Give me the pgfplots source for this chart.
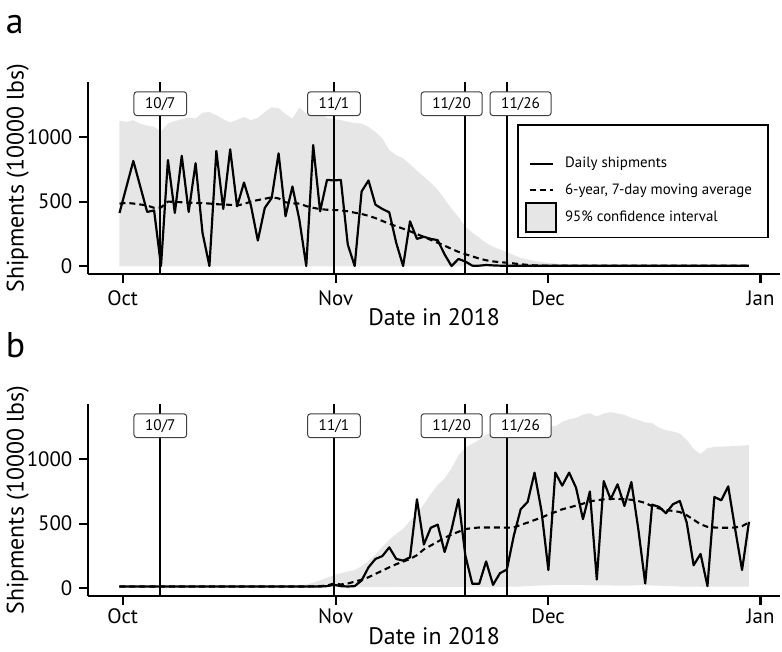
\documentclass[border=0pt]{standalone}
\usepackage{pgfplots}
\pgfplotsset{compat=1.18}
\usepackage{pgfplotstable}
\usepgfplotslibrary{fillbetween}
\usepackage{fontspec}
\setmainfont{PT Sans}
\definecolor{cig}{RGB}{230,230,230}

\pgfplotstableread{
day daily ma lo hi
0 412 484 -3 1127
1 614 490 -3 1119
2 816 485 -3 1132
3 618 478 -3 1105
4 420 470 -3 1090
5 432 452 -3 1080
6 0 455 -3 1045
7 823 500 -3 1106
8 412 498 -3 1125
9 856 495 -3 1140
10 420 492 -3 1153
11 798 490 -3 1145
12 258 488 -3 1190
13 0 485 -3 1195
14 893 480 -3 1170
15 443 478 -3 1140
16 906 475 -3 1115
17 463 470 -3 1135
18 648 482 -3 1157
19 470 500 -3 1132
20 198 512 -3 1150
21 451 522 -3 1196
22 528 534 -3 1232
23 875 525 -3 1225
24 386 495 -3 1180
25 617 486 -3 1145
26 360 485 -3 1230
27 0 465 -3 1185
28 939 452 -3 1170
29 424 442 -3 1196
30 669 437 -3 1150
31 664 435 -3 1140
32 669 432 -3 1132
33 167 425 -3 1119
34 0 414 -3 1110
35 579 404 -3 1106
36 664 390 -3 1080
37 476 372 -3 1040
38 443 350 -3 991
39 417 328 -3 900
40 181 309 -3 860
41 0 290 -3 836
42 347 270 -3 790
43 211 248 -3 740
44 227 226 -3 694
45 211 203 -3 645
46 201 181 -3 592
47 90 158 -3 520
48 0 133 -3 445
49 55 110 -3 380
50 35 92 -3 305
51 3 75 -3 260
52 3 58 -3 220
53 8 45 -3 180
54 5 36 -3 150
55 3 30 -3 129
56 3 26 -3 108
57 3 20 -3 85
58 3 14 -3 65
59 3 9 -3 50
60 3 5 -3 40
61 3 4 -3 32
62 3 3 -3 25
63 3 3 -3 20
64 3 3 -3 15
65 3 3 -3 12
66 3 3 -3 9
67 3 3 -3 7
68 3 3 -3 5
69 3 3 -3 4
70 3 3 -3 4
71 3 3 -3 4
72 3 3 -3 4
73 3 3 -3 4
74 3 3 -3 4
75 3 3 -3 4
76 3 3 -3 4
77 3 3 -3 4
78 3 3 -3 4
79 3 3 -3 4
80 3 3 -3 4
81 3 3 -3 4
82 3 3 -3 4
83 3 3 -3 4
84 3 3 -3 4
85 3 3 -3 4
86 3 3 -3 4
87 3 3 -3 4
88 3 3 -3 4
89 3 3 -3 4
90 3 3 -3 4
91 3 3 -3 4
}\dataA

\pgfplotstableread{
day daily ma lo hi
0 12 12 8 12
1 12 12 8 12
2 12 12 8 12
3 12 12 8 12
4 12 12 8 12
5 12 12 8 12
6 12 12 8 12
7 12 12 8 12
8 12 12 8 12
9 12 12 8 12
10 12 12 8 12
11 12 12 8 12
12 12 12 8 12
13 12 12 8 12
14 12 12 8 12
15 12 12 8 12
16 12 12 8 12
17 12 12 8 12
18 12 12 8 12
19 12 12 8 12
20 12 12 8 12
21 12 12 8 12
22 12 12 8 12
23 12 12 8 12
24 12 12 8 12
25 12 12 8 12
26 12 12 8 18
27 12 12 8 28
28 12 13 8 42
29 12 15 8 60
30 15 20 8 80
31 25 35 8 100
32 15 28 8 115
33 12 35 8 128
34 15 50 8 140
35 59 65 8 170
36 161 84 8 210
37 226 110 8 260
38 248 135 8 320
39 316 161 8 375
40 226 185 8 420
41 213 205 10 460
42 238 226 10 520
43 689 255 10 580
44 338 300 10 650
45 468 330 10 730
46 492 360 10 800
47 280 390 10 850
48 455 415 10 930
49 689 437 10 1030
50 252 458 10 1090
51 33 465 10 1120
52 33 470 10 1150
53 207 470 10 1190
54 25 470 10 1200
55 115 470 10 1210
56 144 468 10 1216
57 406 470 12 1230
58 612 490 12 1245
59 668 508 15 1265
60 896 528 18 1268
61 600 547 20 1272
62 140 570 22 1262
63 896 590 25 1255
64 795 611 25 1290
65 896 625 25 1310
66 779 640 25 1322
67 535 655 22 1345
68 749 672 22 1357
69 66 682 20 1332
70 830 688 20 1355
71 689 692 20 1365
72 805 692 18 1355
73 637 690 18 1345
74 823 685 20 1320
75 458 675 22 1305
76 35 661 22 1285
77 647 635 20 1280
78 630 618 18 1245
79 581 605 15 1225
80 650 599 15 1215
81 676 590 12 1200
82 508 565 12 1150
83 177 530 12 1080
84 265 495 10 1040
85 15 475 10 1087
86 707 470 12 1095
87 681 468 12 1098
88 789 468 12 1100
89 458 470 12 1102
90 140 480 12 1106
91 514 510 12 1110
}\dataB

\tikzset{
  datebox/.style={draw=black!75, line width=0.5pt, rounded corners=1.5pt, fill=white,
    inner xsep=5.6pt, inner ysep=0pt, minimum height=12pt, font=\fontsize{7.7}{8}\selectfont},
  vline/.style={line width=0.9pt, black},
}
\pgfplotsset{
  lineleg/.style={legend image code/.code={\draw[##1] (0pt,0pt) -- (11.7pt,0pt);}},
  boxleg/.style={legend image code/.code={\path (0pt,-0.4pt) rectangle (11.7pt,0.4pt);\draw[line width=0.9pt, fill=cig, overlay] (-1.7pt,-7.3pt) rectangle (13.3pt,7.3pt);}},
  panel/.style={
    scale only axis, width=348pt, height=96.65pt,
    xmin=-4.51, xmax=95.49, ymin=-64, ymax=1427,
    axis x line*=bottom, axis y line*=left,
    axis line style={line width=1.1pt, -},
    xtick={0.46,31.25,61.97,92.67}, xticklabels={Oct,Nov,Dec,Jan},
    ytick={0,500,1000}, yticklabels={0,500,1000},
    tick align=outside, major tick length=4.5pt,
    tick style={line width=1.1pt, black},
    /pgf/number format/assume math mode=true,
    ticklabel style={font=\fontsize{10.5}{12}\selectfont},
    xlabel={Date in 2018}, ylabel={Shipments (10000 lbs)},
    label style={font=\fontsize{12}{14}\selectfont},
    ylabel style={at={(axis description cs:-0.102,0.5)}, anchor=center},
    clip=false,
  },
}

\begin{document}
\begin{tikzpicture}
\node[anchor=base west, inner sep=0pt, font=\fontsize{18}{20}\selectfont] at (0.3pt,310.85pt) {a};
\node[anchor=base west, inner sep=0pt, font=\fontsize{18}{20}\selectfont] at (0.3pt,147.5pt) {b};

% ---------------- panel a
\begin{axis}[panel, at={(42pt,189.5pt)}, anchor=south west,
  xticklabel style={anchor=base, yshift=-11.35pt},
  xlabel style={at={(axis description cs:0.5,0)}, anchor=base, yshift=-26pt},
  legend style={at={(rel axis cs:0.636,0.6146)}, anchor=north west, draw=none, fill=none,
    inner sep=0pt, row sep=6.5pt, column sep=5.6pt,
    nodes={inner xsep=0pt, inner ysep=0pt, text height=5.4pt, text depth=1.6pt},
    font=\fontsize{7.5}{9}\selectfont},
  legend cell align=left]
\addplot[draw=none, forget plot, name path=hiA] table[x=day,y=hi]{\dataA};
\addplot[draw=none, forget plot, name path=loA] table[x=day,y=lo]{\dataA};
\addplot[cig, forget plot] fill between[of=hiA and loA];
\addplot[vline, forget plot] coordinates {(5.9,-64) (5.9,1427)};
\addplot[vline, forget plot] coordinates {(31,-64) (31,1427)};
\addplot[vline, forget plot] coordinates {(50,-64) (50,1427)};
\addplot[vline, forget plot] coordinates {(56,-64) (56,1427)};
\addplot[black, line width=1.05pt, dash pattern=on 3pt off 2pt, forget plot] table[x=day,y=ma]{\dataA};
\addplot[black, line width=1.1pt, line join=round, forget plot] table[x=day,y=daily]{\dataA};
\node[datebox] at (axis cs:5.9,1260) {10/7};
\node[datebox] at (axis cs:31,1260) {11/1};
\node[datebox, xshift=-6.9pt] at (axis cs:50,1260) {11/20};
\node[datebox, xshift=6.9pt] at (axis cs:56,1260) {11/26};
\draw[line width=0.9pt] (rel axis cs:0.6207,0.776) rectangle (rel axis cs:0.9823,0.1914);
\addlegendimage{black, line width=1.05pt, lineleg}
\addlegendentry{Daily shipments}
\addlegendimage{black, line width=1.05pt, dash pattern=on 3.3pt off 1.8pt, lineleg}
\addlegendentry{6-year, 7-day moving average}
\addlegendimage{boxleg}
\addlegendentry{95\% confidence interval}
\end{axis}

% ---------------- panel b
\begin{axis}[panel, at={(42pt,27.5pt)}, anchor=south west,
  xticklabel style={anchor=base, yshift=-9.15pt},
  xlabel style={at={(axis description cs:0.5,0)}, anchor=base, yshift=-24.15pt}]
\addplot[draw=none, forget plot, name path=hiB] table[x=day,y=hi]{\dataB};
\addplot[draw=none, forget plot, name path=loB] table[x=day,y=lo]{\dataB};
\addplot[cig, forget plot] fill between[of=hiB and loB];
\addplot[vline, forget plot] coordinates {(5.9,-64) (5.9,1427)};
\addplot[vline, forget plot] coordinates {(31,-64) (31,1427)};
\addplot[vline, forget plot] coordinates {(50,-64) (50,1427)};
\addplot[vline, forget plot] coordinates {(56,-64) (56,1427)};
\addplot[black, line width=1.05pt, dash pattern=on 3pt off 2pt, forget plot] table[x=day,y=ma]{\dataB};
\addplot[black, line width=1.1pt, line join=round, forget plot] table[x=day,y=daily]{\dataB};
\node[datebox] at (axis cs:5.9,1260) {10/7};
\node[datebox] at (axis cs:31,1260) {11/1};
\node[datebox, xshift=-6.9pt] at (axis cs:50,1260) {11/20};
\node[datebox, xshift=6.9pt] at (axis cs:56,1260) {11/26};
\end{axis}
\path[use as bounding box] (0,0) rectangle (391pt,327.5pt);
\end{tikzpicture}
\end{document}
